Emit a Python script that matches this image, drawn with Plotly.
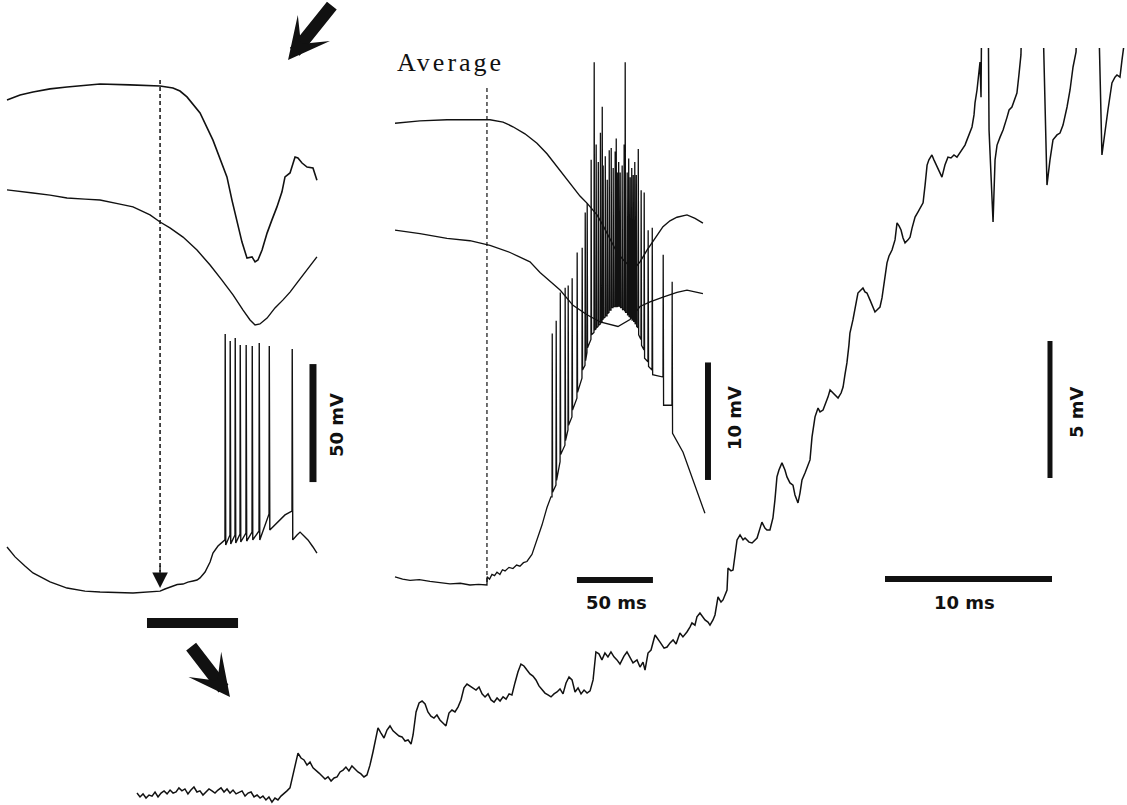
import plotly.graph_objects as go

# ---------------- Panel A (ms, mV) ----------------
a_top_t = [0, 8.6, 17.1, 28.3, 39.5, 51.3, 61.2, 80.9, 100.7, 109.2, 113.8, 118.4, 127.0, 135.5, 140.1, 144.7,
           148.0, 151.3, 154.6, 157.9, 161.2, 163.2, 165.1, 167.8, 171.1, 174.3, 177.6, 180.9, 182.9, 186.2,
           189.5, 191.4, 194.1, 197.4, 201.3, 203.9]
a_top_v = [208.9, 211.0, 212.3, 213.6, 214.4, 215.0, 215.7, 215.3, 214.8, 214.0, 212.7, 210.2, 203.4, 191.9,
           184.3, 176.3, 166.5, 158.1, 148.7, 141.9, 142.4, 140.3, 141.1, 145.3, 152.5, 158.1, 163.6, 170.0,
           176.3, 178.0, 184.7, 184.3, 182.2, 180.5, 180.1, 174.9]

a_mid_t = [0, 8.6, 17.1, 28.3, 39.5, 51.3, 61.2, 74.3, 82.9, 94.1, 100.7, 107.2, 115.8, 125.0, 133.6, 141.4,
           148.7, 155.3, 159.9, 163.2, 166.4, 171.1, 176.3, 181.6, 186.2, 190.8, 196.1, 200.7, 203.9]
a_mid_v = [170.8, 170.3, 169.5, 168.6, 167.4, 166.9, 166.5, 164.8, 163.6, 160.2, 157.2, 154.7, 150.8, 145.3,
           139.0, 132.6, 126.3, 119.9, 115.7, 113.6, 114.0, 116.5, 120.8, 124.2, 127.5, 131.4, 136.0, 139.8, 142.4]

# intracellular trace: sub-threshold points and spikes
a_cell_t = [0, 5.3, 11.8, 17.1, 28.3, 39.5, 51.3, 61.2, 82.9, 100.7, 103.9, 106.5, 109.2, 112.0, 115.8, 119.0,
            122.4, 125.0, 127.0, 130.3, 133.6, 135.5, 138.8, 142.1, 176.3, 179.6, 182.9, 186.2, 190.8, 192.8,
            195.4, 198.0, 201.3, 203.9]
a_cell_v = [19.5, 15.3, 11.4, 8.5, 4.7, 2.1, 0.8, 0.4, 0.0, 0.8, 1.7, 2.4, 3.0, 3.6, 3.8, 4.6, 5.1, 5.5, 6.4,
            8.9, 13.1, 16.9, 19.9, 22.0, 28.8, 30.9, 33.1, 34.3, 24.6, 25.8, 24.2, 22.5, 19.5, 16.9]
a_spk_t = [143.4, 146.7, 150.0, 153.3, 157.2, 161.2, 165.8, 172.4, 187.5]
a_spk_pre = [22.5, 24.6, 24.6, 25.0, 25.4, 25.8, 26.3, 33.5, 34.7]
a_spk_peak = [109.7, 106.8, 108.1, 105.1, 105.1, 104.7, 105.9, 104.7, 103.4]
a_spk_post = [20.3, 20.8, 21.2, 21.6, 22.0, 22.5, 22.5, 26.7, 22.5]

a_stim_t = 100.7                 # dashed marker time
a_stim_v = [217.4, 9.0]
a_window_t = [92.1, 152.0]       # segment expanded in panel C
a_window_v = -12.7
a_bar_t = 201.3
a_bar_v = [47.0, 97.0]           # 50 mV

# ---------------- Panel B (ms, mV) ----------------
b_top_t = [0, 16.4, 34.2, 49.3, 62.5, 71.1, 77.6, 85.5, 93.4, 100.0, 106.6, 111.8, 117.1, 121.7, 126.3, 130.3,
           132.9, 136.8, 141.4, 146.1, 150.0, 154.6, 157.9, 161.2, 165.8, 171.1, 176.3, 180.9, 185.5, 192.1,
           197.4, 202.6]
b_top_v = [39.3, 39.5, 39.6, 39.6, 39.6, 39.4, 39.0, 38.4, 37.6, 36.7, 35.6, 34.7, 33.9, 33.1, 32.5, 31.9,
           31.5, 30.6, 29.4, 28.3, 27.7, 27.1, 27.0, 27.5, 28.5, 29.5, 30.5, 31.0, 31.3, 31.5, 31.2, 30.8]

b_mid_t = [0, 16.4, 34.2, 49.3, 62.5, 75.7, 88.8, 95.4, 108.6, 117.1, 126.3, 134.9, 146.7, 154.6, 161.2, 167.8,
           176.3, 185.5, 192.1, 202.6]
b_mid_v = [30.2, 29.9, 29.5, 29.3, 28.9, 28.3, 27.5, 26.6, 25.1, 23.8, 23.0, 22.4, 22.0, 22.6, 23.7, 24.1,
           24.5, 24.9, 25.1, 24.8]

b_cell_t = [0, 5.0, 9.9, 16.0, 23.0, 30.0, 36.2, 43.0, 49.3, 55.0, 60.5, 60.6, 62.2, 63.8, 65.5, 67.1, 69.0,
            70.7, 72.4, 75.0, 77.6, 80.0, 82.2, 84.5, 86.8, 90.1, 93.4, 96.7, 100.0, 102.6, 189.5, 196.1, 203.9]
b_cell_v = [0.7, 0.5, 0.4, 0.45, 0.3, 0.2, 0.1, 0.15, 0.0, 0.05, 0.0, 0.7, 0.5, 0.9, 0.8, 1.1, 0.9, 1.3, 1.2,
            1.5, 1.4, 1.7, 1.6, 1.9, 2.0, 2.6, 3.8, 5.1, 6.6, 7.5, 11.3, 8.9, 6.1]
b_spk_t = [103.3, 105.9, 108.6, 111.8, 113.8, 116.4, 119.7, 123.0, 125.0, 126.3, 128.9, 130.9, 132.2, 133.6,
           135.0, 136.2, 136.8, 138.2, 139.5, 140.8, 142.1, 143.4, 144.7, 145.4, 146.1, 147.0, 148.0, 149.3,
           150.6, 151.3, 152.6, 153.6, 154.6, 155.6, 156.6, 157.6, 158.6, 159.9, 161.8, 163.8, 166.4, 169.1,
           176.3, 182.2]
b_spk_peak = [21.4, 22.5, 24.9, 25.3, 25.5, 26.1, 28.3, 28.7, 31.7, 32.5, 36.2, 44.5, 37.5, 36.0, 38.5, 40.7,
              35.7, 36.5, 34.5, 37.0, 37.2, 35.5, 36.9, 38.0, 35.1, 36.0, 35.1, 35.7, 37.5, 44.5, 35.1, 36.3,
              34.7, 35.5, 34.9, 36.0, 34.9, 37.1, 33.6, 33.4, 30.2, 30.4, 28.1, 25.8]
b_spk_pre = [7.5, 8.5, 10.5, 11.9, 13.2, 14.3, 15.9, 17.6, 18.7, 19.8, 20.9, 21.5, 21.8, 22.0, 22.2, 22.4,
             22.6, 22.8, 22.9, 23.2, 23.4, 23.6, 23.7, 23.7, 23.7, 23.8, 23.8, 23.6, 23.5, 23.4, 23.2, 23.0,
             22.9, 22.8, 22.7, 22.5, 22.4, 21.9, 20.9, 20.0, 19.0, 18.3, 17.7, 15.3]
b_spk_post = [7.9, 8.9, 11.1, 12.3, 13.6, 14.9, 16.4, 18.3, 19.1, 20.2, 21.3, 21.7, 21.9, 22.1, 22.3, 22.6,
              22.7, 22.9, 23.1, 23.4, 23.6, 23.7, 23.7, 23.7, 23.7, 23.7, 23.6, 23.4, 23.3, 23.2, 23.0, 22.8,
              22.7, 22.5, 22.4, 22.2, 22.0, 21.3, 20.4, 19.3, 18.6, 17.9, 15.3, 12.9]

b_stim_t = 60.5
b_stim_v = [42.3, 0.2]
b_vbar_t = 205.9
b_vbar_v = [8.94, 18.94]         # 10 mV
b_hbar_t = [119.7, 169.7]        # 50 ms
b_hbar_v = 0.43

# ---------------- Panel C (ms, mV) ----------------
c_t = [0.12, 0.30, 0.48, 0.66, 0.84, 1.02, 1.20, 1.38, 1.56, 1.74,
       1.92, 2.10, 2.28, 2.46, 2.63, 2.81, 2.99, 3.17, 3.35, 3.53,
       3.71, 3.89, 4.07, 4.25, 4.43, 4.61, 4.79, 4.97, 5.15, 5.33,
       5.51, 5.69, 5.87, 6.05, 6.23, 6.41, 6.59, 6.77, 6.95, 7.13,
       7.31, 7.49, 7.66, 7.84, 8.02, 8.20, 8.38, 8.56, 8.74, 8.92,
       9.10, 9.28, 9.46, 9.64, 9.76, 9.94, 10.12, 10.30, 10.48, 10.66,
       10.84, 11.02, 11.20, 11.38, 11.56, 11.74, 11.92, 12.10, 12.28, 12.46,
       12.63, 12.81, 12.99, 13.17, 13.35, 13.53, 13.71, 13.89, 14.07, 14.25,
       14.43, 14.55, 14.73, 14.91, 15.09, 15.27, 15.45, 15.63, 15.81, 15.99,
       16.17, 16.35, 16.53, 16.65, 16.83, 17.01, 17.19, 17.37, 17.54, 17.72,
       17.90, 18.08, 18.26, 18.44, 18.62, 18.80, 18.98, 19.16, 19.34, 19.52,
       19.70, 19.88, 20.06, 20.24, 20.42, 20.60, 20.78, 20.96, 21.14, 21.32,
       21.50, 21.68, 21.86, 22.04, 22.22, 22.40, 22.57, 22.75, 22.93, 23.11,
       23.29, 23.47, 23.65, 23.83, 24.01, 24.19, 24.37, 24.55, 24.73, 24.91,
       25.09, 25.27, 25.45, 25.63, 25.81, 25.99, 26.17, 26.35, 26.53, 26.71,
       26.89, 27.07, 27.25, 27.43, 27.60, 27.78, 27.96, 28.14, 28.32, 28.50,
       28.68, 28.86, 29.04, 29.28, 29.46, 29.64, 29.82, 30.06, 30.24, 30.42,
       30.54, 30.72, 30.90, 31.14, 31.32, 31.44, 31.68, 31.86, 32.04, 32.22,
       32.40, 32.63, 32.81, 33.05, 33.23, 33.35, 33.53, 33.65, 33.83, 34.01,
       34.13, 34.31, 34.43, 34.61, 34.73, 34.91, 35.09, 35.21, 35.33, 35.45,
       35.51, 35.69, 35.81, 35.93, 36.05, 36.23, 36.41, 36.53, 36.77, 36.95,
       37.13, 37.25, 37.43, 37.54, 37.72, 37.84, 38.02, 38.20, 38.32, 38.44,
       38.56, 38.74, 38.92, 39.04, 39.22, 39.40, 39.52, 39.70, 39.82, 39.94,
       40.12, 40.24, 40.42, 40.54, 40.72, 40.90, 41.02, 41.20, 41.32, 41.50,
       41.62, 41.80, 41.98, 42.10, 42.28, 42.40, 42.51, 42.63, 42.75, 42.81,
       42.99, 43.11, 43.23, 43.29, 43.47, 43.59, 43.71, 43.83, 44.01, 44.19,
       44.31, 44.49, 44.61, 44.73, 44.85, 45.03, 45.15, 45.33, 45.51, 45.63,
       45.75, 45.87, 45.99, 46.11, 46.29, 46.41, 46.53, 46.71, 46.89, 47.07,
       47.19, 47.31, 47.43, 47.54, 47.72, 47.84, 48.02, 48.14, 48.32, 48.50,
       48.68, 48.86, 49.04, 49.22, 49.40, 49.58, 49.70, 49.82, 50.00, 50.12,
       50.24, 50.30, 50.42, 50.54, 50.60, 50.66, 50.90, 51.14, 51.26, 51.38,
       51.50, 51.62, 51.80, 51.98, 52.22, 52.34, 52.51, 52.69, 52.81, 52.93,
       53.05, 53.71, 54.61, 54.79, 54.97, 55.21, 55.39, 55.57, 55.81, 55.99,
       56.17, 56.35, 57.07, 57.90, 58.08, 58.26, 58.50, 58.68, 58.80, 58.98,
       59.10, 59.22, 59.46]
c_v = [0.07, -0.07, 0.04, -0.11, 0.0, -0.04, 0.11, -0.07, 0.07, 0.15,
       0.04, 0.18, 0.07, 0.11, 0.26, 0.15, 0.22, 0.04, 0.18, 0.29,
       0.11, 0.15, 0.0, 0.11, 0.22, 0.15, 0.07, 0.18, 0.26, 0.11,
       0.22, 0.07, 0.18, 0.04, 0.11, 0.15, -0.04, 0.07, 0.11, -0.07,
       0.0, -0.11, -0.04, -0.18, -0.07, -0.26, -0.11, -0.18, -0.04, 0.04,
       0.15, 0.26, 0.73, 1.28, 1.53, 1.35, 1.28, 1.09, 1.20, 0.99,
       0.91, 0.80, 0.69, 0.58, 0.66, 0.51, 0.62, 0.66, 0.84, 0.91,
       1.02, 0.88, 1.06, 0.95, 0.84, 0.77, 0.66, 0.73, 1.09, 1.57,
       2.19, 2.45, 2.26, 2.08, 2.37, 2.52, 2.34, 2.26, 2.15, 2.12,
       1.97, 2.01, 1.86, 2.19, 3.03, 3.36, 3.43, 3.32, 3.03, 2.88,
       2.81, 2.92, 2.74, 2.63, 2.52, 2.99, 3.10, 3.03, 3.21, 3.47,
       3.91, 4.05, 3.98, 3.91, 3.83, 3.94, 3.69, 3.58, 3.69, 3.47,
       3.39, 3.54, 3.43, 3.58, 3.50, 3.69, 3.65, 4.09, 4.49, 4.78,
       4.71, 4.56, 4.42, 4.34, 4.20, 3.98, 3.83, 3.72, 3.65, 3.58,
       3.69, 3.76, 3.87, 3.69, 4.09, 4.31, 4.20, 3.76, 3.91, 3.69,
       3.83, 3.72, 3.80, 4.20, 5.22, 5.15, 4.93, 5.18, 5.04, 5.22,
       5.04, 4.93, 4.78, 5.07, 5.22, 5.00, 4.82, 4.93, 4.67, 4.85,
       4.56, 5.18, 5.29, 5.84, 5.66, 5.58, 5.36, 5.40, 5.55, 5.66,
       5.51, 5.91, 5.77, 5.95, 6.13, 6.28, 6.20, 6.50, 6.64, 6.46,
       6.39, 6.31, 6.20, 6.39, 6.57, 7.23, 7.04, 7.12, 7.34, 7.48,
       8.28, 8.18, 8.21, 8.76, 9.31, 9.49, 9.31, 9.38, 9.23, 9.20,
       9.31, 9.38, 9.74, 9.96, 9.74, 9.67, 9.67, 10.11, 10.77, 11.61,
       11.86, 12.12, 11.86, 11.61, 11.39, 11.31, 10.95, 10.66, 11.02, 11.50,
       11.75, 11.97, 12.23, 13.07, 13.80, 14.12, 13.98, 14.05, 14.23, 14.53,
       14.78, 14.67, 14.56, 14.49, 14.67, 14.89, 15.33, 15.77, 16.42, 16.86,
       17.34, 17.70, 18.07, 18.32, 18.43, 18.50, 18.36, 18.32, 18.07, 17.81,
       17.63, 17.74, 17.81, 18.14, 18.61, 19.42, 19.67, 19.89, 20.26, 20.88,
       20.77, 20.62, 20.33, 20.15, 20.26, 20.36, 20.69, 21.09, 21.28, 21.46,
       21.61, 22.26, 22.99, 23.18, 23.36, 23.18, 22.92, 22.81, 22.55, 22.99,
       23.28, 23.25, 23.36, 23.28, 23.43, 23.61, 23.72, 23.91, 24.16, 24.38,
       24.82, 25.26, 25.73, 26.28, 26.75, 25.47, 45, 24.27, 22.45, 20.91,
       23.18, 23.72, 24.01, 24.27, 24.74, 25.00, 25.11, 25.44, 25.62, 26.28,
       27.01, 45, 22.26, 23.18, 23.91, 24.09, 24.16, 24.45, 25.11, 25.73,
       26.57, 27.12, 45, 23.36, 24.27, 25.00, 25.99, 26.20, 26.28, 26.20,
       26.82, 27.37, 30]
c_vbar_t = 54.79
c_vbar_v = [11.57, 16.57]        # 5 mV
c_hbar_t = [44.91, 54.91]        # 10 ms
c_hbar_v = 7.88

# ---------------- layout geometry (pixels) ----------------
W, H = 1127, 805
INK = "#111111"


def spiking(base_t, base_v, st, pre, peak, post, rise, fall):
    pts = list(zip(base_t, base_v))
    for t, a, p, b in zip(st, pre, peak, post):
        pts += [(t, a), (t + rise, p), (t + fall, b)]
    pts.sort(key=lambda q: q[0])
    return [q[0] for q in pts], [q[1] for q in pts]


def axis_pair(px0, px1, py_top, py_bot, ox, oy, sx, sy):
    """domain in pixels + calibration (origin pixel and px per unit)"""
    xa = dict(domain=[px0 / W, px1 / W], range=[(px0 - ox) / sx, (px1 - ox) / sx],
              visible=False, fixedrange=True)
    ya = dict(domain=[1 - py_bot / H, 1 - py_top / H], range=[(oy - py_bot) / sy, (oy - py_top) / sy],
              visible=False, fixedrange=True)
    return xa, ya


xa1, ya1 = axis_pair(0, 355, 0, 805, 7, 593, 1.52, 2.36)
xa2, ya2 = axis_pair(340, 760, 0, 805, 395, 585, 1.52, 11.75)
xa3, ya3 = axis_pair(120, 1127, 48, 805, 135, 795, 16.7, 27.4)
xa2["anchor"] = "y2"; ya2["anchor"] = "x2"
xa3["anchor"] = "y3"; ya3["anchor"] = "x3"

fig = go.Figure()


def line(x, y, ax, w=1.3, dash=None):
    fig.add_trace(go.Scatter(x=x, y=y, mode="lines", xaxis=ax[0], yaxis=ax[1], hoverinfo="skip",
                             line=dict(color=INK, width=w, dash=dash)))


A = ("x", "y"); B = ("x2", "y2"); C = ("x3", "y3")

# Panel A
line(a_top_t, a_top_v, A, 1.6)
line(a_mid_t, a_mid_v, A, 1.4)
at, av = spiking(a_cell_t, a_cell_v, a_spk_t, a_spk_pre, a_spk_peak, a_spk_post, 0.15, 0.5)
line(at, av, A, 1.4)
line([a_stim_t, a_stim_t], a_stim_v, A, 1.5, "4px,3px")
line(a_window_t, [a_window_v, a_window_v], A, 10)
line([a_bar_t, a_bar_t], a_bar_v, A, 7)

# Panel B
line(b_top_t, b_top_v, B, 1.4)
line(b_mid_t, b_mid_v, B, 1.3)
bt, bv = spiking(b_cell_t, b_cell_v, b_spk_t, b_spk_pre, b_spk_peak, b_spk_post, 0.15, 0.4)
line(bt, bv, B, 1.3)
line([b_stim_t, b_stim_t], b_stim_v, B, 1.2, "4px,3px")
line([b_vbar_t, b_vbar_t], b_vbar_v, B, 6)
line(b_hbar_t, [b_hbar_v, b_hbar_v], B, 6)

# Panel C
line(c_t, c_v, C, 1.5)
line([c_vbar_t, c_vbar_t], c_vbar_v, C, 5)
line(c_hbar_t, [c_hbar_v, c_hbar_v], C, 6)

LBL = dict(family="DejaVu Sans", size=18, color=INK)


def label(text, x, y, ax, angle=0):
    return dict(text="<b>" + text + "</b>", x=x, y=y, xref=ax[0], yref=ax[1], showarrow=False,
                textangle=angle, font=LBL, xanchor="center", yanchor="middle")


annotations = [
    label("50 mV", 217.1, 71.2, A, -90),
    label("10 mV", 223.0, 14.2, B, -90),
    label("50 ms", 145.4, -1.5, B),
    label("5 mV", 56.41, 13.98, C, -90),
    label("10 ms", 49.70, 7.01, C),
    dict(text='<span style="letter-spacing:3px">Average</span>', x=0, y=44.5, xref="x2", yref="y2",
         showarrow=False, xanchor="left", yanchor="middle",
         font=dict(family="Liberation Serif", size=26, color=INK)),
    # arrowhead of the dashed marker
    dict(text="", x=a_stim_t, y=2.1, xref="x", yref="y", showarrow=True, ax=0, ay=-24,
         arrowhead=2, arrowsize=2.4, arrowwidth=1.3, arrowcolor=INK),
    # block arrows
    dict(text="", x=184.9, y=225.8, xref="x", yref="y", showarrow=True, ax=45, ay=-56,
         arrowhead=3, arrowsize=0.55, arrowwidth=12.5, arrowcolor=INK),
    dict(text="", x=146.7, y=-44.1, xref="x", yref="y", showarrow=True, ax=-40, ay=-52,
         arrowhead=3, arrowsize=0.55, arrowwidth=12.5, arrowcolor=INK),
]

fig.update_layout(
    width=W, height=H, margin=dict(l=0, r=0, t=0, b=0),
    paper_bgcolor="white", plot_bgcolor="rgba(0,0,0,0)", showlegend=False,
    xaxis=xa1, yaxis=ya1, xaxis2=xa2, yaxis2=ya2, xaxis3=xa3, yaxis3=ya3,
    annotations=annotations,
)

fig.write_html("out.html", config={"displayModeBar": False, "staticPlot": True},
               post_script="document.body.style.margin='0px';")
